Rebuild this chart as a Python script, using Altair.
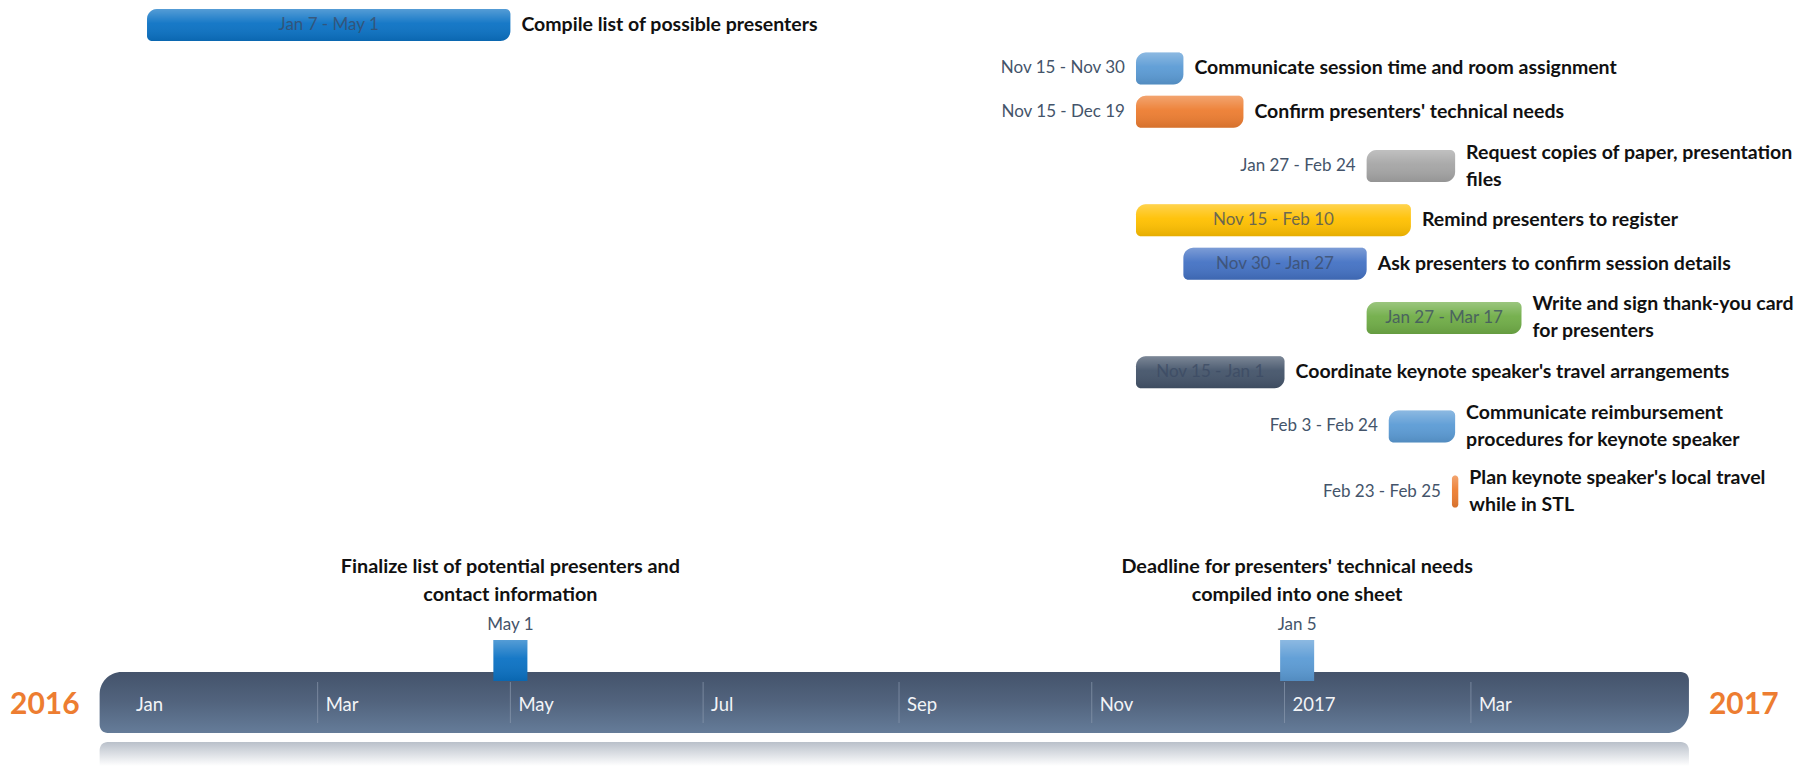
import altair as alt
import pandas as pd

# ---------------- data ----------------
task_names = [
    "Compile list of possible presenters",
    "Communicate session time and room assignment",
    "Confirm presenters' technical needs",
    "Request copies of paper, presentation\nfiles",
    "Remind presenters to register",
    "Ask presenters to confirm session details",
    "Write and sign thank-you card\nfor presenters",
    "Coordinate keynote speaker's travel arrangements",
    "Communicate reimbursement\nprocedures for keynote speaker",
    "Plan keynote speaker's local travel\nwhile in STL",
]
task_starts = ["2016-01-07", "2016-11-15", "2016-11-15", "2017-01-27", "2016-11-15",
               "2016-11-30", "2017-01-27", "2016-11-15", "2017-02-03", "2017-02-23"]
task_ends = ["2016-05-01", "2016-11-30", "2016-12-19", "2017-02-24", "2017-02-10",
             "2017-01-27", "2017-03-17", "2017-01-01", "2017-02-24", "2017-02-25"]
task_ranges = ["Jan 7 - May 1", "Nov 15 - Nov 30", "Nov 15 - Dec 19", "Jan 27 - Feb 24",
               "Nov 15 - Feb 10", "Nov 30 - Jan 27", "Jan 27 - Mar 17", "Nov 15 - Jan 1",
               "Feb 3 - Feb 24", "Feb 23 - Feb 25"]
task_colors = ["#0B72C4", "#5B9BD5", "#ED7D31", "#A5A5A5", "#FFC000",
               "#4472C4", "#70AD47", "#44546A", "#5B9BD5", "#ED7D31"]

milestone_dates = ["2016-05-01", "2017-01-05"]
milestone_labels = ["May 1", "Jan 5"]
milestone_titles = ["Finalize list of potential presenters and\ncontact information",
                    "Deadline for presenters' technical needs\ncompiled into one sheet"]
milestone_colors = ["#0B72C4", "#5B9BD5"]

tick_dates = ["2016-01-01", "2016-03-01", "2016-05-01", "2016-07-01", "2016-09-01",
              "2016-11-01", "2017-01-01", "2017-03-01"]
tick_labels = ["Jan", "Mar", "May", "Jul", "Sep", "Nov", "2017", "Mar"]

timeline_start = "2015-12-23"
timeline_end = "2017-05-09"
year_labels = ["2016", "2017"]

# ---------------- tables ----------------
lines = [n.count("\n") + 1 for n in task_names]
half = [2 if l == 1 else 3 for l in lines]
rows = [0]
for i in range(1, len(task_names)):
    rows.append(rows[-1] + half[i - 1] + half[i])

tasks = pd.DataFrame({
    "name": task_names, "start": task_starts, "end": task_ends,
    "range": task_ranges, "row": rows, "lines": lines,
})
s = pd.to_datetime(tasks["start"])
e = pd.to_datetime(tasks["end"])
tasks["days"] = (e - s).dt.days
tasks["mid"] = (s + (e - s) / 2).dt.strftime("%Y-%m-%dT%H:%M:%S")
tasks["inside"] = tasks["days"] >= 40

miles = pd.DataFrame({"date": milestone_dates, "label": milestone_labels,
                      "title": milestone_titles, "color": milestone_colors})
ticks = pd.DataFrame({"date": tick_dates, "label": tick_labels})
ticks["divider"] = [i > 0 for i in range(len(tick_dates))]
tl = pd.DataFrame({"start": [timeline_start], "end": [timeline_end]})
years = pd.DataFrame({"date": [timeline_start, timeline_end], "label": year_labels,
                      "side": ["left", "right"]})

# ---------------- scales ----------------
W, H = 1801, 758
FONT = "Lato"
LINE_H = 27
UNIT_PX = 10.85
xscale = alt.Scale(type="utc",
                   domain=[alt.DateTime(year=2015, month=11, date=24, utc=True),
                           alt.DateTime(year=2017, month=6, date=16, utc=True)])
yscale = alt.Scale(domain=[-1.567, 68.29], reverse=True, nice=False, zero=False)
X = lambda f: alt.X(f, type="temporal", scale=xscale, axis=None)
Y = alt.Y("row:Q", scale=yscale, axis=None)
color_enc = alt.Color("name:N", scale=alt.Scale(domain=task_names, range=task_colors), legend=None)

gloss = alt.Gradient(
    gradient="linear", x1=0, y1=0, x2=0, y2=1,
    stops=[alt.GradientStop(color="rgba(255,255,255,0.30)", offset=0),
           alt.GradientStop(color="rgba(255,255,255,0.05)", offset=0.45),
           alt.GradientStop(color="rgba(0,0,0,0.10)", offset=1)])

corner = dict(cornerRadiusTopLeft=10, cornerRadiusBottomRight=10,
              cornerRadiusTopRight=5, cornerRadiusBottomLeft=5)

base = alt.Chart(tasks)
bars = base.mark_rect(yOffset=-16, y2Offset=16, **corner).encode(
    x=X("start"), x2="end", y=Y, y2="row:Q", color=color_enc)
bars_gloss = base.mark_rect(yOffset=-16, y2Offset=16, fill=gloss, **corner).encode(
    x=X("start"), x2="end", y=Y, y2="row:Q")

out_dates = base.transform_filter("!datum.inside").mark_text(
    align="right", baseline="middle", dx=-11, font=FONT, fontSize=17, color="#44546A").encode(
    x=X("start"), y=Y, text="range:N")
in_dates = base.transform_filter("datum.inside").mark_text(
    align="center", baseline="middle", font=FONT, fontSize=17, color="#3b4a63", opacity=0.75).encode(
    x=X("mid"), y=Y, text="range:N")
names = base.transform_calculate(
    label_row=f"datum.row - (datum.lines - 1) * {LINE_H / 2 / UNIT_PX}"
).mark_text(
    align="left", baseline="middle", dx=11, font=FONT, fontSize=19.5, fontWeight="bold",
    color="#111111", lineBreak="\n", lineHeight=LINE_H).encode(
    x=X("end"), y=alt.Y("label_row:Q", scale=yscale, axis=None), text="name:N")

tl_grad = alt.Gradient(
    gradient="linear", x1=0, y1=0, x2=0, y2=1,
    stops=[alt.GradientStop(color="#44536B", offset=0),
           alt.GradientStop(color="#52647E", offset=0.5),
           alt.GradientStop(color="#657C99", offset=1)])
refl_grad = alt.Gradient(
    gradient="linear", x1=0, y1=0, x2=0, y2=1,
    stops=[alt.GradientStop(color="#B9C0CA", offset=0),
           alt.GradientStop(color="#FFFFFF", offset=1)])

tl_base = alt.Chart(tl)
timeline = tl_base.mark_rect(fill=tl_grad, cornerRadiusTopLeft=22, cornerRadiusBottomLeft=8,
                             cornerRadiusTopRight=8, cornerRadiusBottomRight=22).encode(
    x=X("start"), x2="end", y=alt.value(664), y2=alt.value(725))
reflection = tl_base.mark_rect(fill=refl_grad, cornerRadiusTopLeft=8, cornerRadiusTopRight=8).encode(
    x=X("start"), x2="end", y=alt.value(734), y2=alt.value(758))

tk = alt.Chart(ticks)
dividers = tk.transform_filter("datum.divider").mark_rule(
    color="#8A99AE", strokeWidth=1, opacity=0.7).encode(
    x=X("date"), y=alt.value(674), y2=alt.value(715))
month_text = tk.mark_text(align="left", baseline="middle", dx=8, font=FONT, fontSize=18.5,
                          color="#F2F4F7").encode(x=X("date"), y=alt.value(697), text="label:N")

ms = alt.Chart(miles)
ms_rect = ms.mark_rect(xOffset=-17, x2Offset=17).encode(
    x=X("date"), x2="date", y=alt.value(632), y2=alt.value(673),
    color=alt.Color("color:N", scale=None))
ms_gloss = ms.mark_rect(xOffset=-17, x2Offset=17, fill=gloss).encode(
    x=X("date"), x2="date", y=alt.value(632), y2=alt.value(673))
ms_label = ms.mark_text(align="center", baseline="middle", font=FONT, fontSize=17,
                        color="#44546A").encode(x=X("date"), y=alt.value(617), text="label:N")
ms_title = ms.mark_text(align="center", baseline="middle", font=FONT, fontSize=19.8,
                        fontWeight="bold", color="#111111", lineBreak="\n", lineHeight=28).encode(
    x=X("date"), y=alt.value(559), text="title:N")

yr = alt.Chart(years)
yr_left = yr.transform_filter("datum.side == 'left'").mark_text(
    align="right", baseline="middle", dx=-20, font=FONT, fontSize=30, fontWeight="bold",
    color="#ED7D31").encode(x=X("date"), y=alt.value(697), text="label:N")
yr_right = yr.transform_filter("datum.side == 'right'").mark_text(
    align="left", baseline="middle", dx=20, font=FONT, fontSize=30, fontWeight="bold",
    color="#ED7D31").encode(x=X("date"), y=alt.value(697), text="label:N")

chart = alt.layer(
    reflection, timeline, dividers, month_text,
    ms_rect, ms_gloss, ms_label, ms_title,
    yr_left, yr_right,
    bars, bars_gloss, out_dates, in_dates, names,
).resolve_scale(color="independent").properties(
    width=W, height=H, padding=0, background="white"
).configure_view(stroke=None)

chart.save("out.html", embed_options={"renderer": "svg", "actions": False})
